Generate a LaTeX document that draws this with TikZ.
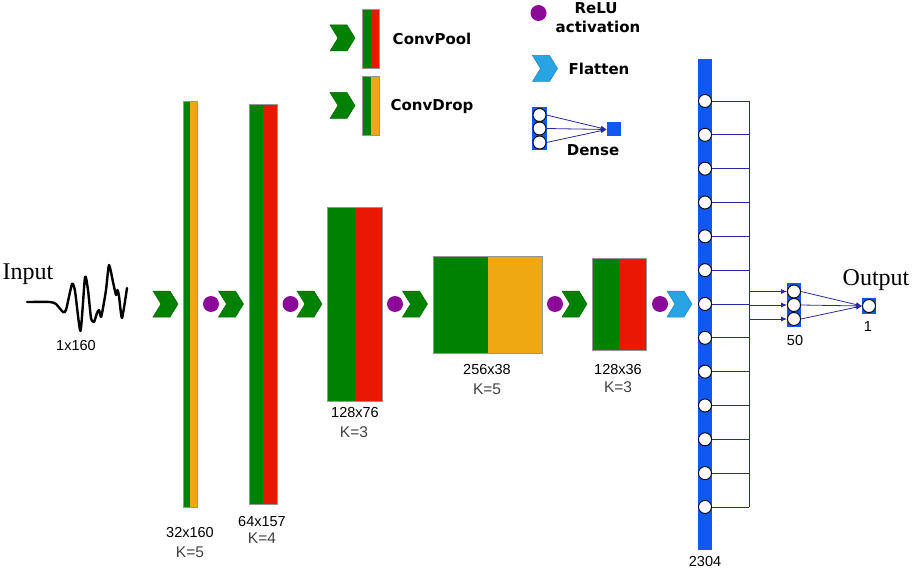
\documentclass[tikz,border=0pt]{standalone}
\usepackage{fontspec}
\setmainfont{Liberation Serif}
\newfontfamily\arialf{Liberation Sans}
\newfontfamily\dvsf{DejaVu Sans}
\usetikzlibrary{arrows.meta}
\definecolor{cgreen}{RGB}{0,130,0}
\definecolor{cred}{RGB}{232,24,4}
\definecolor{corange}{RGB}{240,168,18}
\definecolor{cpurple}{RGB}{140,10,152}
\definecolor{cflat}{RGB}{40,164,226}
\definecolor{cblue}{RGB}{16,88,240}
\definecolor{cnavy}{RGB}{40,40,160}
\definecolor{cborder}{RGB}{150,150,150}
\begin{document}
\begin{tikzpicture}[x=1pt,y=-1pt,
  dimlabel/.style={font=\arialf\fontsize{14.5}{16}\selectfont,text=black,inner sep=0pt},
  klabel/.style={font=\arialf\fontsize{15.5}{17}\selectfont,text=black!75,inner sep=0pt},
  legtext/.style={font=\dvsf\bfseries\fontsize{15}{17}\selectfont,text=black,inner sep=0pt},
  bigtext/.style={font=\fontsize{24}{26}\selectfont,inner sep=0pt,anchor=base},
  relu/.style={fill=cpurple},
  neuron/.style={circle,draw=black,fill=white,line width=0.9pt,minimum size=13pt,inner sep=0pt},
  link/.style={draw=cnavy,line width=0.8pt},
  arr/.style={link,-{Latex[length=6pt,width=5pt]}},
  pics/chevron/.style={code={
    \filldraw[fill=#1,draw=#1!80!black,line width=0.5pt]
      (-12.5,-13) -- (4.5,-13) -- (12.5,0) -- (4.5,13) -- (-12.5,13) -- (-4.5,0) -- cycle;}}
]
\useasboundingbox (0,0) rectangle (913,572);
% ---------- input ----------
\node[bigtext] (inp) at (28,279) {Input};
\draw[line width=2.4pt,line join=round,line cap=round]
  plot[smooth,tension=0.35] coordinates {(27,302) (50,302) (56,304) (63,312) (66,310) (72,284) (75,291) (80.5,331) (85,277) (88,290) (91,318) (94,322) (97,313) (99,310) (101,317) (103,308) (106,290) (109,265) (113,282) (116,295) (117.5,290) (119,296) (122,318) (127,288)};
\node[dimlabel] (l0) at (76,346) {1x160};
% ---------- chevrons and relu dots ----------
\pic at (165.5,304) {chevron=cgreen};
\fill[relu] (211,304) circle (8);
\pic at (231,304) {chevron=cgreen};
\fill[relu] (290.5,304) circle (8);
\pic at (309.5,304) {chevron=cgreen};
\fill[relu] (395,304) circle (8);
\pic at (415,304) {chevron=cgreen};
\fill[relu] (555,304) circle (8);
\pic at (574.5,304) {chevron=cgreen};
\fill[relu] (660,304) circle (8);
\pic at (679.5,304) {chevron=cflat};
% ---------- conv layers ----------
% layer 1
\fill[cgreen] (183,101) rectangle (190,507);
\fill[corange] (190,101) rectangle (197.5,507);
\draw[cborder,line width=0.5pt] (183,101) rectangle (197.5,507);
\node[dimlabel] (l1) at (190,533) {32x160};
\node[klabel] (k1) at (190,552) {K=5};
% layer 2
\fill[cgreen] (249,104) rectangle (263,504);
\fill[cred] (263,104) rectangle (277,504);
\draw[cborder,line width=0.5pt] (249,104) rectangle (277,504);
\node[dimlabel] (l2) at (262,522) {64x157};
\node[klabel] (k2) at (262,538.5) {K=4};
% layer 3
\fill[cgreen] (327,207) rectangle (354.5,401);
\fill[cred] (354.5,207) rectangle (382,401);
\draw[cborder,line width=0.5pt] (327,207) rectangle (382,401);
\node[dimlabel] (l3) at (355,413) {128x76};
\node[klabel] (k3) at (354,432.5) {K=3};
% layer 4
\fill[cgreen] (433,256) rectangle (487.5,353);
\fill[corange] (487.5,256) rectangle (542,353);
\draw[cborder,line width=0.5pt] (433,256) rectangle (542,353);
\node[dimlabel] (l4) at (487,370) {256x38};
\node[klabel] (k4) at (487,389) {K=5};
% layer 5
\fill[cgreen] (592,258) rectangle (619,350);
\fill[cred] (619,258) rectangle (646,350);
\draw[cborder,line width=0.5pt] (592,258) rectangle (646,350);
\node[dimlabel] (l5) at (618,370) {128x36};
\node[klabel] (k5) at (618,387) {K=3};
% ---------- flatten layer ----------
\fill[cblue] (698,59) rectangle (712,550);
\foreach \i in {1,...,13} {
  \node[neuron] (c\i) at (705,{101+33.83*(\i-1)}) {};
  \coordinate (h\i) at (749,{101+33.83*(\i-1)});
  \draw[link] (c\i.east) -- (h\i);
}
\draw[link] (h1) -- (h13);
\node[dimlabel] (l6) at (705,562) {2304};
% ---------- dense 50 ----------
\fill[cblue] (787,283) rectangle (801,327);
\node[neuron] (d1) at (794,291.5) {};
\node[neuron] (d2) at (794,305) {};
\node[neuron] (d3) at (794,319) {};
\coordinate (e1) at (749,291.5);
\coordinate (e2) at (749,305);
\coordinate (e3) at (749,319);
\draw[arr] (e1) -- (d1.west);
\draw[arr] (e2) -- (d2.west);
\draw[arr] (e3) -- (d3.west);
\node[dimlabel] (l7) at (795,341) {50};
% ---------- output ----------
\fill[cblue] (862,298) rectangle (876,314);
\node[neuron] (o) at (869,306) {};
\draw[arr] (d1.east) -- (o.west);
\draw[arr] (d2.east) -- (o.west);
\draw[arr] (d3.east) -- (o.west);
\node[dimlabel] (l8) at (868,327) {1};
\node[bigtext] (outp) at (876,285) {Output};
% ---------- legend ----------
\pic at (342.5,38) {chevron=cgreen};
\fill[cgreen] (362,9) rectangle (370.5,68);
\fill[cred] (370.5,9) rectangle (379,68);
\draw[cborder,line width=0.5pt] (362,9) rectangle (379,68);
\node[legtext] (t1) at (432,38.5) {ConvPool};
\pic at (342.5,105.5) {chevron=cgreen};
\fill[cgreen] (362,76) rectangle (370.5,135);
\fill[corange] (370.5,76) rectangle (379,135);
\draw[cborder,line width=0.5pt] (362,76) rectangle (379,135);
\node[legtext] (t2) at (432,106) {ConvDrop};
\fill[relu] (538.5,13) circle (8);
\node[legtext] (t3) at (596,8) {ReLU};
\node[legtext] (t4) at (598,27) {activation};
\pic at (545,68.5) {chevron=cflat};
\node[legtext] (t5) at (599,68.5) {Flatten};
\fill[cblue] (532,107) rectangle (547,150);
\node[neuron] (g1) at (539.5,115) {};
\node[neuron] (g2) at (539.5,128.5) {};
\node[neuron] (g3) at (539.5,142.5) {};
\node[fill=cblue,minimum size=14pt,inner sep=0pt] (gs) at (614,129.5) {};
\draw[arr] (g1.east) -- (gs.west);
\draw[arr] (g2.east) -- (gs.west);
\draw[arr] (g3.east) -- (gs.west);
\node[legtext] (t6) at (593,150) {Dense};
\end{tikzpicture}
\end{document}
